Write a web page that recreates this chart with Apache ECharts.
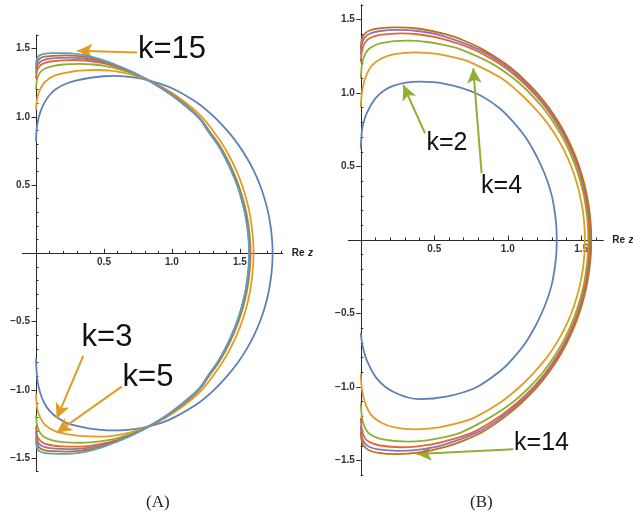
<!DOCTYPE html>
<html>
<head>
<meta charset="utf-8">
<script src="https://cdn.jsdelivr.net/npm/echarts@6/dist/echarts.min.js"></script>
<style>
  html, body { margin: 0; padding: 0; background: #ffffff; }
  #chart { width: 633px; height: 519px; }
</style>
</head>
<body>
<div id="chart"></div>
<script>
// ---------- Panel (A): boundary curves, upper and lower halves, [Re z, Im z] ----------
const a3Top = [[0,0.82],[0.004,0.9],[0.012,0.96],[0.03,1.03],[0.06,1.1],[0.1,1.16],[0.15,1.205],[0.22,1.242],[0.3,1.266],[0.4,1.286],[0.5,1.297],[0.57,1.3],[0.67,1.295],[0.774,1.28],[0.921,1.24],[1.02,1.2],[1.19,1.1],[1.31,1.0],[1.405,0.9],[1.485,0.8],[1.55,0.7],[1.604,0.6],[1.647,0.5],[1.681,0.4],[1.707,0.3],[1.725,0.2],[1.736,0.1],[1.74,0]];
const a3Bottom = [[1.74,0],[1.736,-0.1],[1.725,-0.2],[1.707,-0.3],[1.681,-0.4],[1.647,-0.5],[1.604,-0.6],[1.55,-0.7],[1.485,-0.8],[1.405,-0.9],[1.31,-1.0],[1.19,-1.1],[1.02,-1.2],[0.921,-1.242],[0.774,-1.28],[0.67,-1.294],[0.57,-1.297],[0.5,-1.295],[0.4,-1.285],[0.3,-1.265],[0.22,-1.24],[0.15,-1.2],[0.1,-1.155],[0.06,-1.095],[0.03,-1.02],[0.012,-0.94],[0.004,-0.86],[0,-0.77]];

const a5Top = [[0,1.05],[0.004,1.1],[0.012,1.15],[0.03,1.2],[0.065,1.255],[0.14,1.303],[0.26,1.33],[0.35,1.34],[0.45,1.343],[0.55,1.338],[0.65,1.322],[0.75,1.295],[0.85,1.255],[0.95,1.205],[1.05,1.142],[1.15,1.065],[1.22,1.0],[1.3,0.9],[1.37,0.8],[1.428,0.7],[1.476,0.6],[1.515,0.5],[1.546,0.4],[1.57,0.3],[1.586,0.2],[1.596,0.1],[1.6,0]];
const a5Bottom = [[1.6,0],[1.596,-0.1],[1.586,-0.2],[1.57,-0.3],[1.546,-0.4],[1.515,-0.5],[1.476,-0.6],[1.428,-0.7],[1.37,-0.8],[1.3,-0.9],[1.22,-1.0],[1.15,-1.066],[1.05,-1.143],[0.95,-1.206],[0.85,-1.256],[0.75,-1.296],[0.65,-1.323],[0.55,-1.339],[0.45,-1.343],[0.35,-1.34],[0.26,-1.33],[0.14,-1.303],[0.065,-1.255],[0.03,-1.2],[0.012,-1.15],[0.004,-1.1],[0,-1.03]];

const a7Top = [[0,1.2],[0.004,1.25],[0.012,1.29],[0.03,1.325],[0.06,1.35],[0.12,1.372],[0.2,1.383],[0.32,1.388],[0.42,1.383],[0.52,1.37],[0.62,1.346],[0.72,1.314],[0.82,1.272],[0.92,1.217],[1.0,1.165],[1.1,1.09],[1.18,1.02],[1.23,0.96],[1.272,0.9],[1.344,0.8],[1.402,0.7],[1.45,0.6],[1.49,0.5],[1.522,0.4],[1.547,0.3],[1.564,0.2],[1.574,0.1],[1.578,0]];
const a7Bottom = [[1.578,0],[1.574,-0.1],[1.564,-0.2],[1.547,-0.3],[1.522,-0.4],[1.49,-0.5],[1.45,-0.6],[1.402,-0.7],[1.344,-0.8],[1.272,-0.9],[1.23,-0.962],[1.18,-1.022],[1.1,-1.092],[1.0,-1.167],[0.92,-1.219],[0.82,-1.274],[0.72,-1.316],[0.62,-1.348],[0.52,-1.371],[0.42,-1.384],[0.32,-1.388],[0.2,-1.383],[0.12,-1.37],[0.06,-1.345],[0.03,-1.315],[0.012,-1.275],[0.004,-1.235],[0,-1.19]];

const a9Top = [[0,1.28],[0.004,1.32],[0.012,1.35],[0.03,1.375],[0.06,1.393],[0.12,1.407],[0.2,1.414],[0.28,1.416],[0.38,1.41],[0.48,1.395],[0.58,1.37],[0.68,1.336],[0.78,1.292],[0.88,1.24],[0.98,1.178],[1.08,1.103],[1.17,1.02],[1.225,0.96],[1.268,0.9],[1.34,0.8],[1.397,0.7],[1.445,0.6],[1.485,0.5],[1.517,0.4],[1.542,0.3],[1.559,0.2],[1.57,0.1],[1.574,0]];
const a9Bottom = [[1.574,0],[1.57,-0.1],[1.559,-0.2],[1.542,-0.3],[1.517,-0.4],[1.485,-0.5],[1.445,-0.6],[1.397,-0.7],[1.34,-0.8],[1.268,-0.9],[1.225,-0.962],[1.17,-1.022],[1.08,-1.105],[0.98,-1.18],[0.88,-1.243],[0.78,-1.295],[0.68,-1.339],[0.58,-1.372],[0.48,-1.397],[0.38,-1.412],[0.28,-1.417],[0.2,-1.415],[0.12,-1.408],[0.06,-1.393],[0.03,-1.372],[0.012,-1.345],[0.004,-1.31],[0,-1.27]];

const a11Top = [[0,1.32],[0.004,1.355],[0.012,1.38],[0.03,1.402],[0.06,1.417],[0.12,1.428],[0.25,1.433],[0.35,1.427],[0.45,1.41],[0.55,1.384],[0.65,1.35],[0.75,1.306],[0.85,1.254],[0.95,1.192],[1.05,1.12],[1.15,1.036],[1.22,0.97],[1.265,0.9],[1.337,0.8],[1.394,0.7],[1.442,0.6],[1.482,0.5],[1.514,0.4],[1.539,0.3],[1.556,0.2],[1.567,0.1],[1.571,0]];
const a11Bottom = [[1.571,0],[1.567,-0.1],[1.556,-0.2],[1.539,-0.3],[1.514,-0.4],[1.482,-0.5],[1.442,-0.6],[1.394,-0.7],[1.337,-0.8],[1.265,-0.9],[1.22,-0.972],[1.15,-1.038],[1.05,-1.122],[0.95,-1.195],[0.85,-1.257],[0.75,-1.309],[0.65,-1.353],[0.55,-1.386],[0.45,-1.412],[0.35,-1.429],[0.25,-1.434],[0.12,-1.429],[0.06,-1.418],[0.03,-1.402],[0.012,-1.378],[0.004,-1.345],[0,-1.305]];

const a13Top = [[0,1.35],[0.004,1.385],[0.012,1.41],[0.03,1.428],[0.06,1.44],[0.12,1.447],[0.23,1.45],[0.32,1.444],[0.4,1.432],[0.5,1.405],[0.6,1.37],[0.7,1.33],[0.8,1.28],[0.9,1.223],[1.0,1.158],[1.1,1.081],[1.2,0.992],[1.263,0.9],[1.335,0.8],[1.392,0.7],[1.44,0.6],[1.48,0.5],[1.512,0.4],[1.537,0.3],[1.554,0.2],[1.565,0.1],[1.569,0]];
const a13Bottom = [[1.569,0],[1.565,-0.1],[1.554,-0.2],[1.537,-0.3],[1.512,-0.4],[1.48,-0.5],[1.44,-0.6],[1.392,-0.7],[1.335,-0.8],[1.263,-0.9],[1.2,-0.994],[1.1,-1.083],[1.0,-1.16],[0.9,-1.226],[0.8,-1.283],[0.7,-1.333],[0.6,-1.373],[0.5,-1.408],[0.4,-1.435],[0.32,-1.447],[0.23,-1.453],[0.12,-1.45],[0.06,-1.442],[0.03,-1.428],[0.012,-1.408],[0.004,-1.38],[0,-1.345]];

const a15Top = [[0,1.38],[0.004,1.415],[0.012,1.437],[0.03,1.452],[0.06,1.461],[0.12,1.466],[0.22,1.467],[0.32,1.458],[0.4,1.443],[0.5,1.413],[0.6,1.376],[0.7,1.333],[0.8,1.282],[0.9,1.224],[1.0,1.158],[1.1,1.08],[1.2,0.99],[1.262,0.9],[1.333,0.8],[1.39,0.7],[1.438,0.6],[1.478,0.5],[1.51,0.4],[1.535,0.3],[1.552,0.2],[1.563,0.1],[1.567,0]];
const a15Bottom = [[1.567,0],[1.563,-0.1],[1.552,-0.2],[1.535,-0.3],[1.51,-0.4],[1.478,-0.5],[1.438,-0.6],[1.39,-0.7],[1.333,-0.8],[1.262,-0.9],[1.2,-0.99],[1.1,-1.082],[1.0,-1.16],[0.9,-1.227],[0.8,-1.285],[0.7,-1.336],[0.6,-1.379],[0.5,-1.416],[0.4,-1.446],[0.32,-1.462],[0.22,-1.47],[0.12,-1.468],[0.06,-1.462],[0.03,-1.452],[0.012,-1.435],[0.004,-1.41],[0,-1.375]];

// ---------- Panel (B) ----------
const b2Top = [[0,0.62],[0.004,0.7],[0.012,0.77],[0.04,0.862],[0.11,0.975],[0.22,1.048],[0.4,1.077],[0.58,1.061],[0.78,1.0],[0.94,0.9],[1.04,0.8],[1.12,0.7],[1.18,0.6],[1.23,0.5],[1.27,0.4],[1.3,0.3],[1.318,0.2],[1.33,0.1],[1.333,0]];
const b2Bottom = [[1.333,0],[1.33,-0.1],[1.318,-0.2],[1.3,-0.3],[1.27,-0.4],[1.23,-0.5],[1.18,-0.6],[1.12,-0.7],[1.04,-0.8],[0.95,-0.89],[0.78,-1.005],[0.58,-1.066],[0.4,-1.083],[0.22,-1.032],[0.108,-0.941],[0.04,-0.816],[0.012,-0.72],[0.004,-0.67],[0,-0.63]];

const b4Top = [[0,0.9],[0.004,0.97],[0.012,1.03],[0.03,1.1],[0.07,1.18],[0.14,1.235],[0.23,1.265],[0.37,1.277],[0.52,1.266],[0.69,1.228],[0.765,1.2],[0.957,1.1],[1.08,1.0],[1.18,0.9],[1.265,0.8],[1.333,0.7],[1.388,0.6],[1.432,0.5],[1.466,0.4],[1.492,0.3],[1.511,0.2],[1.521,0.1],[1.525,0]];
const b4Bottom = [[1.525,0],[1.521,-0.1],[1.511,-0.2],[1.492,-0.3],[1.466,-0.4],[1.432,-0.5],[1.388,-0.6],[1.333,-0.7],[1.265,-0.8],[1.18,-0.9],[1.08,-1.0],[0.957,-1.1],[0.78,-1.205],[0.69,-1.238],[0.52,-1.277],[0.37,-1.288],[0.23,-1.275],[0.14,-1.243],[0.07,-1.19],[0.03,-1.11],[0.012,-1.04],[0.004,-0.98],[0,-0.91]];

const b6Top = [[0,1.1],[0.004,1.16],[0.012,1.215],[0.03,1.265],[0.06,1.305],[0.14,1.34],[0.32,1.356],[0.45,1.347],[0.56,1.328],[0.669,1.3],[0.892,1.2],[1.038,1.1],[1.149,1.0],[1.239,0.9],[1.311,0.8],[1.372,0.7],[1.421,0.6],[1.461,0.5],[1.493,0.4],[1.518,0.3],[1.534,0.2],[1.545,0.1],[1.548,0]];
const b6Bottom = [[1.548,0],[1.545,-0.1],[1.534,-0.2],[1.518,-0.3],[1.493,-0.4],[1.461,-0.5],[1.421,-0.6],[1.372,-0.7],[1.311,-0.8],[1.239,-0.9],[1.149,-1.0],[1.038,-1.1],[0.892,-1.2],[0.68,-1.31],[0.56,-1.343],[0.45,-1.363],[0.32,-1.372],[0.14,-1.355],[0.06,-1.32],[0.03,-1.28],[0.012,-1.23],[0.004,-1.17],[0,-1.11]];

const b8Top = [[0,1.21],[0.004,1.26],[0.012,1.305],[0.03,1.345],[0.06,1.372],[0.13,1.395],[0.27,1.406],[0.4,1.398],[0.55,1.37],[0.76,1.3],[0.941,1.2],[1.072,1.1],[1.175,1.0],[1.259,0.9],[1.328,0.8],[1.386,0.7],[1.434,0.6],[1.473,0.5],[1.504,0.4],[1.527,0.3],[1.544,0.2],[1.554,0.1],[1.557,0]];
const b8Bottom = [[1.557,0],[1.554,-0.1],[1.544,-0.2],[1.527,-0.3],[1.504,-0.4],[1.473,-0.5],[1.434,-0.6],[1.386,-0.7],[1.328,-0.8],[1.259,-0.9],[1.175,-1.0],[1.072,-1.1],[0.945,-1.2],[0.77,-1.305],[0.55,-1.375],[0.4,-1.402],[0.27,-1.41],[0.13,-1.398],[0.06,-1.375],[0.03,-1.35],[0.012,-1.31],[0.004,-1.265],[0,-1.21]];

const b10Top = [[0,1.26],[0.004,1.31],[0.012,1.35],[0.03,1.38],[0.06,1.403],[0.12,1.42],[0.25,1.429],[0.4,1.42],[0.55,1.39],[0.795,1.3],[0.963,1.2],[1.088,1.1],[1.188,1.0],[1.27,0.9],[1.338,0.8],[1.395,0.7],[1.442,0.6],[1.48,0.5],[1.51,0.4],[1.534,0.3],[1.55,0.2],[1.56,0.1],[1.563,0]];
const b10Bottom = [[1.563,0],[1.56,-0.1],[1.55,-0.2],[1.534,-0.3],[1.51,-0.4],[1.48,-0.5],[1.442,-0.6],[1.395,-0.7],[1.338,-0.8],[1.27,-0.9],[1.188,-1.0],[1.088,-1.1],[0.965,-1.2],[0.8,-1.305],[0.55,-1.397],[0.4,-1.426],[0.25,-1.435],[0.12,-1.425],[0.06,-1.408],[0.03,-1.385],[0.012,-1.355],[0.004,-1.315],[0,-1.265]];

const b14Top = [[0,1.3],[0.004,1.35],[0.012,1.38],[0.03,1.405],[0.06,1.425],[0.12,1.44],[0.24,1.447],[0.4,1.437],[0.576,1.4],[0.7,1.357],[0.823,1.3],[0.982,1.2],[1.103,1.1],[1.2,1.0],[1.28,0.9],[1.347,0.8],[1.402,0.7],[1.448,0.6],[1.486,0.5],[1.516,0.4],[1.539,0.3],[1.555,0.2],[1.565,0.1],[1.568,0]];
const b14Bottom = [[1.568,0],[1.565,-0.1],[1.555,-0.2],[1.539,-0.3],[1.516,-0.4],[1.486,-0.5],[1.448,-0.6],[1.402,-0.7],[1.347,-0.8],[1.28,-0.9],[1.2,-1.0],[1.103,-1.1],[0.985,-1.2],[0.83,-1.305],[0.7,-1.365],[0.576,-1.407],[0.4,-1.445],[0.24,-1.456],[0.12,-1.448],[0.06,-1.432],[0.03,-1.41],[0.012,-1.385],[0.004,-1.355],[0,-1.305]];

// ---------- Tick values ----------
const xMajorA = [0.5, 1.0, 1.5];
const xMinorA = [0.1,0.2,0.3,0.4,0.6,0.7,0.8,0.9,1.1,1.2,1.3,1.4,1.6,1.7,1.8];
const xMajorB = [0.5, 1.0, 1.5];
const xMinorB = [0.1,0.2,0.3,0.4,0.6,0.7,0.8,0.9,1.1,1.2,1.3,1.4,1.6];
const yMajor = [-1.5, -1.0, -0.5, 0.5, 1.0, 1.5];
const yMinor = [-1.6,-1.4,-1.3,-1.2,-1.1,-0.9,-0.8,-0.7,-0.6,-0.4,-0.3,-0.2,-0.1,0.1,0.2,0.3,0.4,0.6,0.7,0.8,0.9,1.1,1.2,1.3,1.4,1.6];

// ---------- Annotations (data coordinates) ----------
const annotA = [
  { text: 'k=15', at: [1.0, 1.497], from: [0.743, 1.471], to: [0.304, 1.484] },
  { text: 'k=3',  at: [0.522, -0.613], from: [0.348, -0.752], to: [0.152, -1.209] },
  { text: 'k=5',  at: [0.824, -0.906], from: [0.63, -0.977], to: [0.152, -1.314] }
];
const annotB = [
  { text: 'k=2',  at: [0.586, 0.66], from: [0.437, 0.726], to: [0.289, 1.054] },
  { text: 'k=4',  at: [0.958, 0.367], from: [0.822, 0.454], to: [0.765, 1.168] },
  { text: 'k=14', at: [1.23, -1.379], from: [1.037, -1.424], to: [0.38, -1.456] }
];

const palette = ['#5E81B5', '#E19C24', '#8FB032', '#EB6235', '#8778B3', '#C56E1A', '#5D9EC7'];

const curvesA = [
  ['k=3', a3Top, a3Bottom], ['k=5', a5Top, a5Bottom], ['k=7', a7Top, a7Bottom],
  ['k=9', a9Top, a9Bottom], ['k=11', a11Top, a11Bottom], ['k=13', a13Top, a13Bottom],
  ['k=15', a15Top, a15Bottom]
];
const curvesB = [
  ['k=2', b2Top, b2Bottom], ['k=4', b4Top, b4Bottom], ['k=6', b6Top, b6Bottom],
  ['k=8', b8Top, b8Bottom], ['k=10', b10Top, b10Bottom], ['k=14', b14Top, b14Bottom]
];

// ---------- Layout ----------
const panels = [
  { grid: { left: 22.4, top: 34.9, width: 260.4, height: 436.8 },
    x: [-0.1, 1.815], y: [-1.6, 1.6], xMajor: xMajorA, xMinor: xMinorA },
  { grid: { left: 348.3, top: 4.8, width: 255, height: 470.4 },
    x: [-0.085, 1.65], y: [-1.6, 1.6], xMajor: xMajorB, xMinor: xMinorB }
];

const AXIS_COLOR = '#2b2b2b';
const LABEL_FONT = 'Liberation Sans';
const fmtMinus = v => Number(v).toFixed(1).replace('-', '\u2212');

// Pixel shift that moves an edge axis onto the line through the origin.
function originShift(dim, p) {
  const g = p.grid;
  return dim === 'x'
    ? -g.height * (0 - p.y[0]) / (p.y[1] - p.y[0])
    : -g.width * (0 - p.x[0]) / (p.x[1] - p.x[0]);
}

// Main axis of each direction: axis line through the origin, labelled ticks.
function mainAxis(dim, gridIndex, p, majorVals, withName) {
  const isX = dim === 'x';
  const range = isX ? p.x : p.y;
  const ax = {
    type: 'value', gridIndex, min: range[0], max: range[1],
    position: isX ? 'bottom' : 'left',
    offset: originShift(dim, p),
    splitLine: { show: false },
    silent: true,
    axisLine: { show: true, onZero: false, lineStyle: { color: AXIS_COLOR, width: 1 } },
    axisTick: { show: true, inside: isX, length: 4.5, customValues: majorVals,
                lineStyle: { color: AXIS_COLOR, width: 1 } },
    axisLabel: { show: true, customValues: majorVals, formatter: fmtMinus,
                 fontFamily: LABEL_FONT, fontWeight: 'bold', fontSize: 10,
                 color: '#333', margin: isX ? 4 : 6 }
  };
  if (withName) {
    ax.name = '{r|Re} {i|z}';
    ax.nameLocation = 'end';
    ax.nameGap = 9;
    ax.nameTextStyle = {
      rich: {
        r: { fontFamily: LABEL_FONT, fontWeight: 'bold', fontSize: 10, color: '#222' },
        i: { fontFamily: LABEL_FONT, fontWeight: 'bold', fontStyle: 'italic', fontSize: 10, color: '#222' }
      }
    };
  }
  return ax;
}

// Companion axis carrying only the short 0.1 ticks, on the same origin line.
function minorAxis(dim, gridIndex, p, minorVals) {
  const isX = dim === 'x';
  const range = isX ? p.x : p.y;
  return {
    type: 'value', gridIndex, min: range[0], max: range[1],
    position: isX ? 'bottom' : 'left',
    offset: originShift(dim, p),
    splitLine: { show: false },
    silent: true,
    axisLine: { show: false, onZero: false },
    axisTick: { show: true, inside: true, length: 2.5, customValues: minorVals,
                lineStyle: { color: AXIS_COLOR, width: 1 } },
    axisLabel: { show: false }
  };
}

const xAxes = [
  mainAxis('x', 0, panels[0], panels[0].xMajor, true),
  mainAxis('x', 1, panels[1], panels[1].xMajor, true),
  minorAxis('x', 0, panels[0], panels[0].xMinor),
  minorAxis('x', 1, panels[1], panels[1].xMinor)
];
const yAxes = [
  mainAxis('y', 0, panels[0], yMajor, false),
  mainAxis('y', 1, panels[1], yMajor, false),
  minorAxis('y', 0, panels[0], yMinor),
  minorAxis('y', 1, panels[1], yMinor)
];

function curveSeries(list, axisIndex) {
  return list.map((c, i) => ({
    name: c[0],
    type: 'line',
    xAxisIndex: axisIndex, yAxisIndex: axisIndex,
    data: c[1].concat(c[2]),
    showSymbol: false,
    smooth: 0.35,
    lineStyle: { color: palette[i], width: 1.8 },
    itemStyle: { color: palette[i] },
    emphasis: { disabled: true },
    z: 3 + i
  }));
}

function annotationSeries(list, axisIndex, color, fontSize) {
  return {
    name: 'labels',
    type: 'line',
    xAxisIndex: axisIndex, yAxisIndex: axisIndex,
    data: [],
    z: 20,
    markLine: {
      silent: true,
      animation: false,
      symbol: ['none', 'arrow'],
      symbolSize: [11, 15],
      label: { show: false },
      lineStyle: { color, width: 2, type: 'solid' },
      emphasis: { disabled: true },
      data: list.map(a => [{ coord: a.from }, { coord: a.to }])
    },
    markPoint: {
      silent: true,
      animation: false,
      symbol: 'rect',
      symbolSize: 1,
      itemStyle: { color: 'rgba(0,0,0,0)' },
      label: {
        show: true, position: 'inside',
        formatter: p => p.name,
        fontFamily: LABEL_FONT, fontSize, color: '#111'
      },
      data: list.map(a => ({ name: a.text, coord: a.at }))
    }
  };
}

const chart = echarts.init(document.getElementById('chart'), null, { renderer: 'canvas' });
chart.setOption({
  animation: false,
  backgroundColor: '#ffffff',
  grid: panels.map(p => Object.assign({ containLabel: false, outerBoundsMode: 'none' }, p.grid)),
  xAxis: xAxes,
  yAxis: yAxes,
  series: [
    ...curveSeries(curvesA, 0),
    ...curveSeries(curvesB, 1),
    annotationSeries(annotA, 0, '#E19C24', 31),
    annotationSeries(annotB, 1, '#8FB032', 25)
  ],
  graphic: [
    { type: 'text', left: 146, top: 494,
      style: { text: '(A)', font: '17px "Liberation Serif"', fill: '#222' } },
    { type: 'text', left: 470, top: 494,
      style: { text: '(B)', font: '17px "Liberation Serif"', fill: '#222' } }
  ]
});
</script>
</body>
</html>
